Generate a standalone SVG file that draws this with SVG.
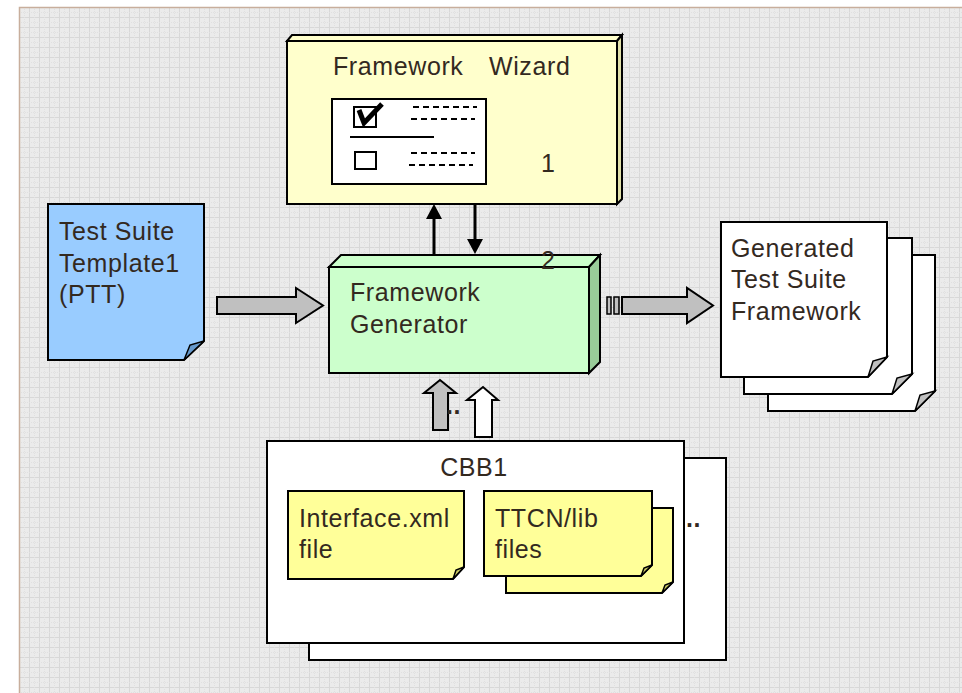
<svg xmlns="http://www.w3.org/2000/svg" width="962" height="693" viewBox="0 0 962 693">
<defs>
<pattern id="grid" x="19" y="7" width="10" height="10" patternUnits="userSpaceOnUse">
<rect width="10" height="10" fill="#ebebeb"/>
<path d="M0 0.5H10M0.5 0V10" stroke="#d8d8d8" stroke-width="1"/>
<path d="M0 5.5H10M5.5 0V10" stroke="#e0e0e0" stroke-width="1" stroke-dasharray="1 1"/>
</pattern>
<style>
.t{font-family:"Liberation Sans",Arial,sans-serif;font-size:25px;letter-spacing:0.6px;fill:#33291f}
.s{stroke:#000;stroke-width:2;stroke-linejoin:miter}
.doc{fill:#fff;stroke:#000;stroke-width:2}
.fold{fill:#c0c0c0;stroke:#000;stroke-width:1.5}
.dash{stroke:#000;stroke-width:2;stroke-dasharray:6 4;fill:none}
</style>
</defs>
<rect width="962" height="693" fill="#fff"/>
<rect x="19" y="7" width="943" height="686" fill="url(#grid)"/>
<path d="M19.5 693V7.5H962" fill="none" stroke="#c8ae9c" stroke-width="1.5"/>

<g id="wizard">
<polygon points="287,41 292,35 622,35 617,41" fill="#ffffcc" class="s"/>
<polygon points="617,41 622,35 622,199 617,204" fill="#e0e0a8" class="s"/>
<rect x="287" y="41" width="330" height="163" fill="#ffffcc" class="s"/>
<text x="333" y="75" class="t">Framework<tspan x="489">Wizard</tspan></text>
<rect x="332" y="99" width="154" height="85" fill="#fff" class="s"/>
<rect x="354" y="107" width="22" height="20" fill="#fff" class="s"/>
<polyline points="359,110 364,123 382,104" fill="none" stroke="#000" stroke-width="5"/>
<line x1="413" y1="107" x2="477" y2="107" class="dash"/>
<line x1="411" y1="119" x2="475" y2="119" class="dash"/>
<line x1="350" y1="137" x2="434" y2="137" stroke="#000" stroke-width="2"/>
<rect x="355" y="152" width="21" height="17" fill="#fff" class="s"/>
<line x1="411" y1="153" x2="475" y2="153" class="dash"/>
<line x1="409" y1="165" x2="473" y2="165" class="dash"/>
<text x="541" y="172" class="t" font-size="23">1</text>
</g>

<g id="template">
<polygon points="48,204 204,204 204,341 184,360 48,360" fill="#99ccff" class="s"/>
<polygon points="204,341 190,345 184,360" fill="#6699cc" stroke="#000" stroke-width="1.5"/>
<text class="t"><tspan x="59" y="240">Test Suite</tspan><tspan x="59" y="272">Template1</tspan><tspan x="59" y="303">(PTT)</tspan></text>
</g>

<g id="generator">
<polygon points="329,267 341,255 600,255 589,267" fill="#ccffcc" class="s"/>
<polygon points="589,267 600,255 600,362 589,373" fill="#99cc99" class="s"/>
<rect x="329" y="267" width="260" height="106" fill="#ccffcc" class="s"/>
<text x="541" y="269" class="t" font-size="23">2</text>
<text class="t"><tspan x="350" y="301">Framework</tspan><tspan x="350" y="333">Generator</tspan></text>
</g>

<g id="generated">
<polygon points="768,255 935,255 935,391 915,411 768,411" class="doc"/>
<polygon points="935,391 920,395 915,411" class="fold"/>
<polygon points="744,238 912,238 912,374 892,394 744,394" class="doc"/>
<polygon points="912,374 897,378 892,394" class="fold"/>
<polygon points="721,222 887,222 887,357 868,377 721,377" class="doc"/>
<polygon points="887,357 873,361 868,377" class="fold"/>
<text class="t"><tspan x="731" y="257">Generated</tspan><tspan x="731" y="288">Test Suite</tspan><tspan x="731" y="320">Framework</tspan></text>
</g>

<g id="cbb">
<rect x="309" y="458" width="417" height="202" fill="#fff" class="s"/>
<rect x="267" y="441" width="417" height="202" fill="#fff" class="s"/>
<text x="474" y="476" class="t" text-anchor="middle">CBB1</text>
</g>

<g id="interface">
<polygon points="288,491 464,491 464,567 453,579 288,579" fill="#ffff99" class="s"/>
<polygon points="464,567 456,570 453,579" fill="#cccc66" stroke="#000" stroke-width="1.5"/>
<text class="t"><tspan x="299" y="527">Interface.xml</tspan><tspan x="299" y="558">file</tspan></text>
</g>

<g id="ttcn">
<polygon points="506,508 673,508 673,582 662,593 506,593" fill="#ffff99" class="s"/>
<polygon points="673,582 665,585 662,593" fill="#cccc66" stroke="#000" stroke-width="1.5"/>
<polygon points="484,491 652,491 652,565 641,576 484,576" fill="#ffff99" class="s"/>
<polygon points="652,565 644,568 641,576" fill="#cccc66" stroke="#000" stroke-width="1.5"/>
<text class="t"><tspan x="495" y="527">TTCN/lib</tspan><tspan x="495" y="558">files</tspan></text>
</g>
<text x="686" y="527" class="t" font-weight="bold">..</text>

<g id="connectors">
<polygon points="217,297 296,297 296,288 323,305.5 296,323 296,314 217,314" fill="#c0c0c0" stroke="#000" stroke-width="2"/>
<rect x="607" y="297" width="4" height="17" fill="#c0c0c0" stroke="#000" stroke-width="1.5"/>
<rect x="614" y="297" width="5" height="17" fill="#c0c0c0" stroke="#000" stroke-width="1.5"/>
<polygon points="622,297 687,297 687,288 713,305.5 687,323 687,314 622,314" fill="#c0c0c0" stroke="#000" stroke-width="2"/>
<line x1="434" y1="255" x2="434" y2="218" stroke="#000" stroke-width="3"/>
<polygon points="426,219 442,219 434,204" fill="#000"/>
<line x1="475" y1="204" x2="475" y2="240" stroke="#000" stroke-width="3"/>
<polygon points="467,239 483,239 475,254" fill="#000"/>
<polygon points="433,430 433,393 424,393 440,380 456,393 448,393 448,430" fill="#c0c0c0" stroke="#000" stroke-width="2"/>
<polygon points="475,437 475,400 467,400 483,387 498,400 492,400 492,437" fill="#fff" stroke="#000" stroke-width="2"/>
<text x="446" y="414" class="t" font-weight="bold">..</text>
</g>
</svg>
